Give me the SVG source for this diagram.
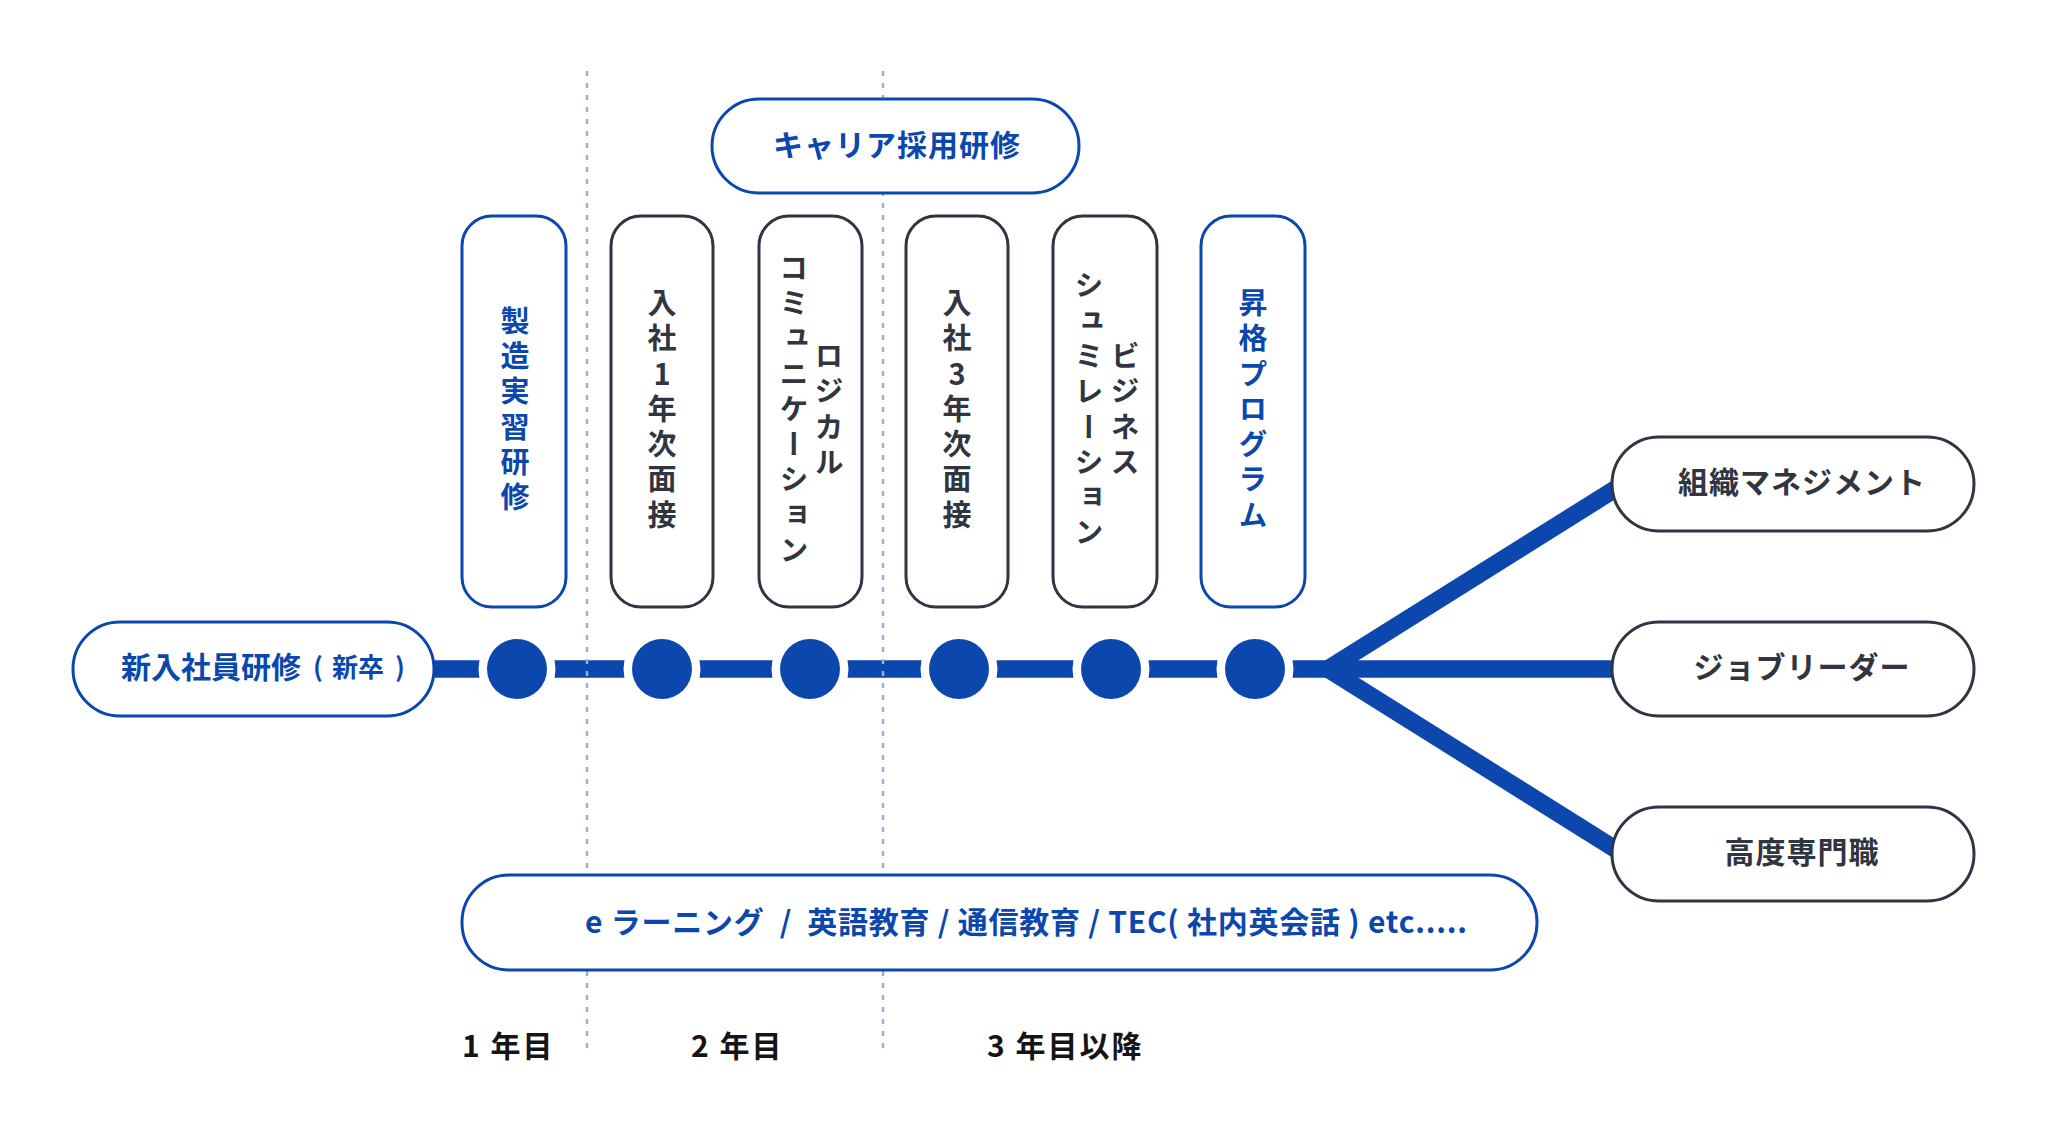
<svg xmlns="http://www.w3.org/2000/svg" width="2048" height="1134" viewBox="0 0 2048 1134">
<style>
text{font-family:"Noto Sans CJK JP","Noto Sans",sans-serif;font-weight:700;dominant-baseline:central}
.pb{fill:#fff;stroke:#0b47ad;stroke-width:3}
.pd{fill:#fff;stroke:#2f3542;stroke-width:3}
.tb{fill:#0b47ad}
.td{fill:#30353f}
.tk{fill:#151515}
.v{writing-mode:vertical-rl;text-orientation:upright;text-anchor:middle;font-size:29px;letter-spacing:6.3px}
.h30{font-size:30px}
.dash{stroke:#9fb0cf;stroke-width:2.5;stroke-dasharray:5 7;fill:none}
.tl{stroke:#0b47ad;stroke-width:17.5;fill:none}
.ring{fill:#fff}
.dot{fill:#0b47ad}
</style>
<rect width="2048" height="1134" fill="#fff"/>
<g id="connectors">
  <line class="tl" x1="430" y1="669" x2="1640" y2="669"/>
  <line class="tl" x1="1328" y1="669" x2="1640" y2="473.4"/>
  <line class="tl" x1="1328" y1="669" x2="1640" y2="864.6"/>
</g>
<g id="year-dividers">
  <line class="dash" x1="587" y1="71" x2="587" y2="1052"/>
  <line class="dash" x1="883" y1="71" x2="883" y2="1052"/>
</g>
<g id="milestones">
  <circle class="ring" cx="517" cy="669" r="38.5"/><circle class="dot" cx="517" cy="669" r="30"/>
  <circle class="ring" cx="662" cy="669" r="38.5"/><circle class="dot" cx="662" cy="669" r="30"/>
  <circle class="ring" cx="810" cy="669" r="38.5"/><circle class="dot" cx="810" cy="669" r="30"/>
  <circle class="ring" cx="959" cy="669" r="38.5"/><circle class="dot" cx="959" cy="669" r="30"/>
  <circle class="ring" cx="1111" cy="669" r="38.5"/><circle class="dot" cx="1111" cy="669" r="30"/>
  <circle class="ring" cx="1255" cy="669" r="38.5"/><circle class="dot" cx="1255" cy="669" r="30"/>
</g>
<g id="node-shinnyu">
  <rect class="pb" x="73" y="622" width="361" height="94" rx="47"/>
  <text class="tb" y="665"><tspan x="121" font-size="30">新入社員研修</tspan><tspan x="313" font-size="26">(</tspan><tspan x="332" font-size="26">新卒</tspan><tspan x="395" font-size="26">)</tspan></text>
</g>
<g id="node-career">
  <rect class="pb" x="712" y="99" width="367" height="94" rx="47"/>
  <text class="tb h30" x="897" y="143" text-anchor="middle" letter-spacing="1">キャリア採用研修</text>
</g>
<g id="node-seizo">
  <rect class="pb" x="462" y="216" width="104" height="391" rx="30"/>
  <text class="tb v" x="515" y="412">製造実習研修</text>
</g>
<g id="node-1nen">
  <rect class="pd" x="611" y="216" width="102" height="391" rx="30"/>
  <text class="td v" x="662" y="412">入社1年次面接</text>
</g>
<g id="node-logical">
  <rect class="pd" x="759" y="216" width="103" height="391" rx="30"/>
  <text class="td v" x="829" y="412">ロジカル</text>
  <text class="td v" x="794" y="412">コミュニケーション</text>
</g>
<g id="node-3nen">
  <rect class="pd" x="906" y="216" width="102" height="391" rx="30"/>
  <text class="td v" x="957" y="412">入社3年次面接</text>
</g>
<g id="node-business">
  <rect class="pd" x="1053" y="216" width="104" height="391" rx="30"/>
  <text class="td v" x="1125" y="412">ビジネス</text>
  <text class="td v" x="1089" y="412">シュミレーション</text>
</g>
<g id="node-shokaku">
  <rect class="pb" x="1201" y="216" width="104" height="391" rx="30"/>
  <text class="tb v" x="1253" y="412">昇格プログラム</text>
</g>
<g id="node-soshiki">
  <rect class="pd" x="1612" y="437" width="362" height="94" rx="47"/>
  <text class="td h30" x="1802" y="480" text-anchor="middle" letter-spacing="1">組織マネジメント</text>
</g>
<g id="node-job">
  <rect class="pd" x="1612" y="622" width="362" height="94" rx="47"/>
  <text class="td h30" x="1802" y="665" text-anchor="middle" letter-spacing="1">ジョブリーダー</text>
</g>
<g id="node-koudo">
  <rect class="pd" x="1612" y="807" width="362" height="94" rx="47"/>
  <text class="td h30" x="1802" y="850" text-anchor="middle" letter-spacing="1">高度専門職</text>
</g>
<g id="node-elearning">
  <rect class="pb" x="462" y="875" width="1075" height="95" rx="47"/>
  <text class="tb" x="585" y="920" font-size="30" xml:space="preserve" textLength="882" lengthAdjust="spacing">e ラーニング  /  英語教育 / 通信教育 / TEC( 社内英会話 ) etc.....</text>
</g>
<g id="year-labels">
  <text class="tk h30" x="462" y="1044" letter-spacing="2">1 年目</text>
  <text class="tk h30" x="691" y="1044" letter-spacing="2">2 年目</text>
  <text class="tk h30" x="987" y="1044" letter-spacing="2">3 年目以降</text>
</g>
</svg>
